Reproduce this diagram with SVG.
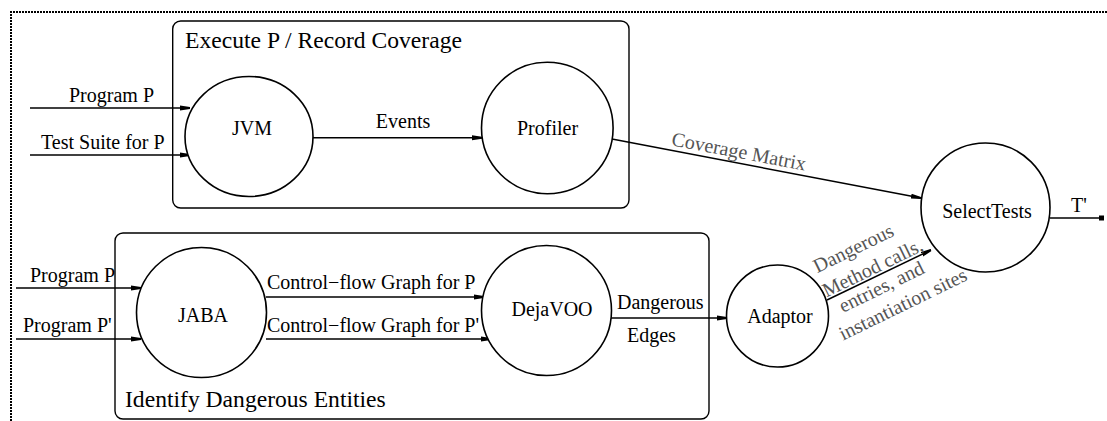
<svg xmlns="http://www.w3.org/2000/svg" width="1107" height="421" viewBox="0 0 1107 421" font-family="Liberation Serif, Times New Roman, Times, DejaVu Serif, serif">
<defs>
<style>
text{font-family:'Liberation Serif','Times New Roman',Times,'DejaVu Serif',serif;fill:#000;}
.lbl{font-size:20px;}
.title{font-size:23.6px;}
.node{font-size:20px;text-anchor:middle;}
.gray{fill:#555;font-size:20px;}
.box{fill:none;stroke:#000;stroke-width:1.4;}
.circ{fill:#fff;stroke:#000;stroke-width:1.6;}
.edge{fill:none;stroke:#000;stroke-width:1.5;}
.border{fill:none;stroke:#000;stroke-width:2;stroke-dasharray:2 1;}
</style>
<marker id="arr" markerWidth="10" markerHeight="6" refX="10" refY="3" orient="auto" markerUnits="userSpaceOnUse">
<path d="M0,0.5 L10,2 L10,4 L0,5.5 z" fill="#000"/>
</marker>
<marker id="sq" markerWidth="6" markerHeight="6" refX="5" refY="3" orient="auto" markerUnits="userSpaceOnUse">
<rect x="0" y="0.5" width="5" height="5" fill="#000"/>
</marker>
</defs>
<rect width="1107" height="421" fill="#fff"/>
<g id="frame">
<path class="border" d="M11,421 L11,12 L1107,12"/>
</g>
<g id="cluster-execute">
<rect class="box" x="172.7" y="21" width="456.3" height="187" rx="8"/>
<text class="title" x="185" y="48">Execute P / Record Coverage</text>
</g>
<g id="cluster-identify">
<rect class="box" x="115" y="233" width="594" height="186" rx="8"/>
<text class="title" x="125" y="407">Identify Dangerous Entities</text>
</g>
<g id="connectors">
<line class="edge" x1="30" y1="108" x2="190" y2="108" marker-end="url(#arr)"/>
<line class="edge" x1="30" y1="155" x2="190" y2="155" marker-end="url(#arr)"/>
<line class="edge" x1="313" y1="137.7" x2="482" y2="137.7" marker-end="url(#arr)"/>
<line class="edge" x1="612" y1="139" x2="921" y2="198" marker-end="url(#arr)"/>
<line class="edge" x1="1050" y1="218" x2="1104" y2="218" marker-end="url(#sq)"/>
<line class="edge" x1="16" y1="288" x2="141" y2="288" marker-end="url(#arr)"/>
<line class="edge" x1="16" y1="339" x2="141" y2="339" marker-end="url(#arr)"/>
<line class="edge" x1="266" y1="297" x2="484" y2="297" marker-end="url(#arr)"/>
<line class="edge" x1="266" y1="339" x2="491" y2="339" marker-end="url(#arr)"/>
<line class="edge" x1="611" y1="318" x2="727" y2="318" marker-end="url(#arr)"/>
<line class="edge" x1="827" y1="300" x2="931" y2="250" marker-end="url(#arr)"/>
<text class="lbl" x="69" y="102">Program P</text>
<text class="lbl" x="41" y="149">Test Suite for P</text>
<text class="lbl" x="403" y="128" text-anchor="middle">Events</text>
<text class="gray" transform="translate(739,151) rotate(10.8)" text-anchor="middle" y="7">Coverage Matrix</text>
<text class="lbl" x="1079" y="212" text-anchor="middle">T'</text>
<text class="lbl" x="30" y="282">Program P</text>
<text class="lbl" x="23" y="332">Program P'</text>
<text class="lbl" x="267" y="289">Control−flow Graph for P</text>
<text class="lbl" x="267" y="332">Control−flow Graph for P'</text>
<text class="lbl" x="617" y="309">Dangerous</text>
<text class="lbl" x="627" y="342">Edges</text>
<g transform="translate(878,277) rotate(-26)">
<text class="gray" x="-9.6" y="-30" text-anchor="middle">Dangerous</text>
<text class="gray" x="-0.8" y="-4" text-anchor="middle">Method calls,</text>
<text class="gray" x="-1.2" y="17" text-anchor="middle">entries, and</text>
<text class="gray" x="10.4" y="42" text-anchor="middle">instantiation sites</text>
</g>
</g>
<g id="node-jvm">
<ellipse class="circ" cx="249" cy="136.5" rx="64" ry="60"/>
<text class="node" x="252" y="135">JVM</text>
</g>
<g id="node-profiler">
<circle class="circ" cx="547.3" cy="128" r="65.8"/>
<text class="node" x="547.5" y="135">Profiler</text>
</g>
<g id="node-selecttests">
<circle class="circ" cx="985.5" cy="207.5" r="64.5"/>
<text class="node" x="987" y="218">SelectTests</text>
</g>
<g id="node-jaba">
<circle class="circ" cx="201.5" cy="312.5" r="65"/>
<text class="node" x="203" y="322">JABA</text>
</g>
<g id="node-dejavoo">
<circle class="circ" cx="546.5" cy="310.5" r="65"/>
<text class="node" x="552" y="316">DejaVOO</text>
</g>
<g id="node-adaptor">
<circle class="circ" cx="777.5" cy="316" r="51"/>
<text class="node" x="780" y="323">Adaptor</text>
</g>
</svg>
